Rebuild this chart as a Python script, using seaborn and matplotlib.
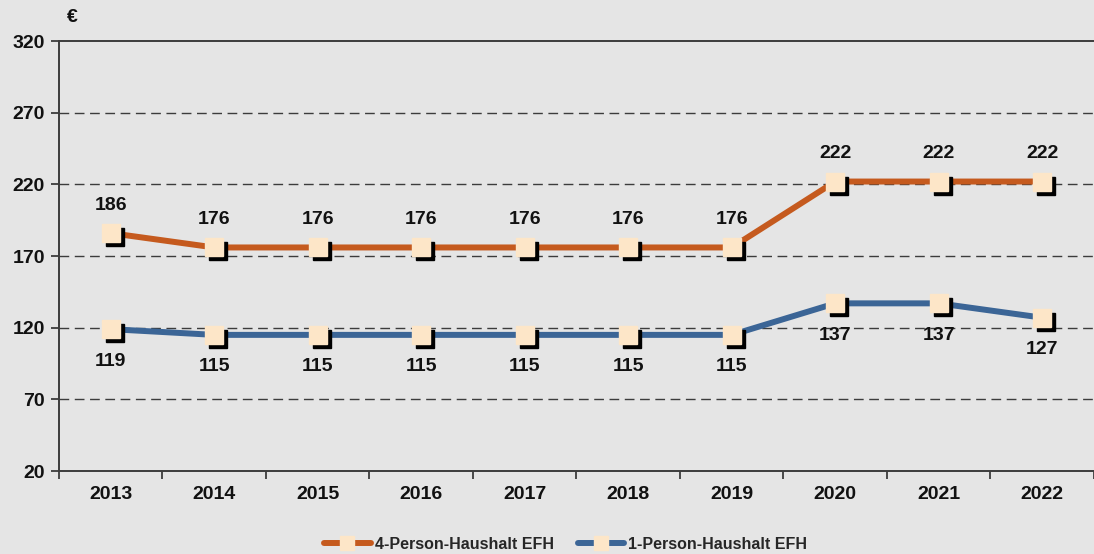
import numpy as np
import pandas as pd
import matplotlib
matplotlib.use("Agg")
import matplotlib.pyplot as plt
import matplotlib.transforms as mtransforms
from matplotlib.lines import Line2D
import seaborn as sns

years = ["2013", "2014", "2015", "2016", "2017", "2018", "2019", "2020", "2021", "2022"]
four_person = [186, 176, 176, 176, 176, 176, 176, 222, 222, 222]
one_person = [119, 115, 115, 115, 115, 115, 115, 137, 137, 127]
series_names = ["4-Person-Haushalt EFH", "1-Person-Haushalt EFH"]
y_ticks = [20, 70, 120, 170, 220, 270, 320]

BG = "#e5e5e5"
ORANGE = "#c55a1e"
BLUE = "#3b6596"
CREAM = "#fde6c8"
DARK = "#3c3c3c"
TXT = "#111111"

sns.set_theme(style="white")
plt.rcParams["font.family"] = ["Liberation Sans", "DejaVu Sans"]
plt.rcParams["font.weight"] = "bold"

pos = np.arange(len(years))
df = pd.DataFrame({
    "pos": np.concatenate([pos, pos]),
    "value": four_person + one_person,
    "series": [series_names[0]] * len(years) + [series_names[1]] * len(years),
})

fig = plt.figure(figsize=(10.94, 5.54), dpi=100, facecolor=BG)
ax = fig.add_axes([0.0539, 0.1498, 0.9461, 0.776])
ax.set_facecolor(BG)

palette = {series_names[0]: ORANGE, series_names[1]: BLUE}
sns.lineplot(data=df, x="pos", y="value", hue="series", palette=palette,
             linewidth=4.3, ax=ax, legend=False, sort=False)

shadow_tr = mtransforms.offset_copy(ax.transData, fig=fig, x=4, y=-4, units="dots")
for vals in (four_person, one_person):
    ax.plot(pos, vals, linestyle="none", marker="s", markersize=13,
            markerfacecolor="black", markeredgecolor="black", zorder=4,
            transform=shadow_tr)
    ax.plot(pos, vals, linestyle="none", marker="s", markersize=13,
            markerfacecolor=CREAM, markeredgecolor=CREAM, zorder=5)

for x, v in zip(pos, four_person):
    ax.annotate(str(v), (x, v), xytext=(0, 20), textcoords="offset points",
                ha="center", va="center", fontsize=14, fontweight="bold", color=TXT)
for x, v in zip(pos, one_person):
    ax.annotate(str(v), (x, v), xytext=(0, -23), textcoords="offset points",
                ha="center", va="center", fontsize=14, fontweight="bold", color=TXT)

ax.set_xlim(-0.5, len(years) - 0.5)
ax.set_ylim(20, 320)
ax.set_yticks(y_ticks)
ax.set_yticklabels([str(t) for t in y_ticks], fontsize=14, fontweight="bold", color=TXT)
ax.set_xticks(pos)
ax.set_xticklabels(years, fontsize=14, fontweight="bold", color=TXT)
ax.set_xticks(np.arange(-0.5, len(years) + 0.5, 1.0), minor=True)
ax.tick_params(axis="x", which="major", length=0, pad=11)
ax.tick_params(axis="x", which="minor", length=6, width=1.3, color=DARK, direction="out", bottom=True)
ax.tick_params(axis="y", length=6, width=1.3, color=DARK, direction="out", left=True, pad=4)
ax.set_xlabel("")
ax.set_ylabel("")

for t in y_ticks[1:-1]:
    ax.axhline(t, color=DARK, linewidth=1.0, linestyle=(0, (7, 4)), zorder=1)

for side in ["left", "bottom", "top"]:
    ax.spines[side].set_visible(True)
    ax.spines[side].set_color(DARK)
    ax.spines[side].set_linewidth(1.4)
ax.spines["right"].set_visible(False)

fig.text(72 / 1094, 1 - 18 / 554, "€", fontsize=14, fontweight="bold", ha="center", va="center", color=TXT)

handles = [Line2D([0], [0], color=ORANGE, linewidth=4.3, marker="s", markersize=10,
                  markerfacecolor=CREAM, markeredgecolor=CREAM),
           Line2D([0], [0], color=BLUE, linewidth=4.3, marker="s", markersize=10,
                  markerfacecolor=CREAM, markeredgecolor=CREAM)]
fig.legend(handles, series_names, loc="center", bbox_to_anchor=(0.517, 0.018), ncol=2,
           frameon=False, handlelength=2.9, handletextpad=0.25, columnspacing=1.5,
           prop={"weight": "bold", "size": 11.5})

fig.savefig("out.png", dpi=100, facecolor=BG)
